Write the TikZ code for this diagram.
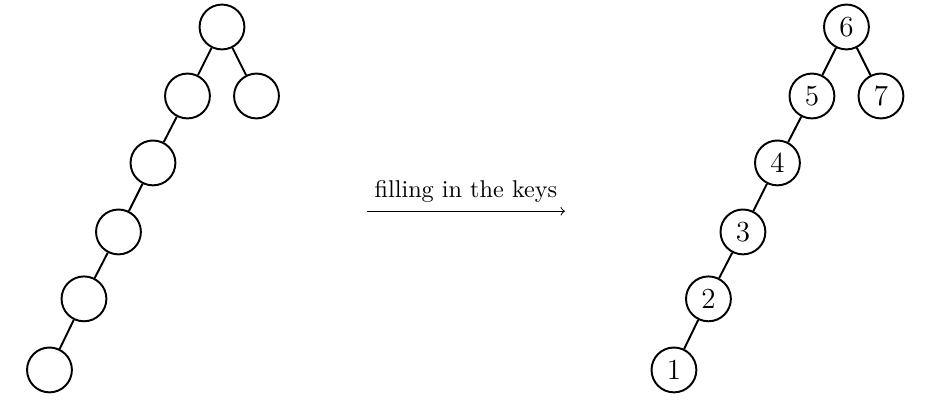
\documentclass[tikz,border=0pt]{standalone}
\usepackage{amsmath}
\usepackage{tikz}
\tikzset{vertex/.style={circle,draw,thick,minimum size=0.65cm,inner sep=0pt,font=\large},
 link/.style={draw,thick},
 }

\begin{document}
\begin{tikzpicture}
        \useasboundingbox (-3.217, 0.391) rectangle (10.232, -5.623);
        % shape only
        \node[vertex] (a6) at (0, 0) {};
        \node[vertex] (a5) at (-.5, -1) {};
        \node[vertex] (a7) at (.5, -1) {};
        \node[vertex] (a4) at (-1, -1.97) {};
        \node[vertex] (a3) at (-1.5, -2.97) {};
        \node[vertex] (a2) at (-2, -3.94) {};
        \node[vertex] (a1) at (-2.5, -4.97) {};
        \draw[link] (a6) -- (a5);
        \draw[link] (a6) -- (a7);
        \draw[link] (a5) -- (a4);
        \draw[link] (a4) -- (a3);
        \draw[link] (a3) -- (a2);
        \draw[link] (a2) -- (a1);
        % the arrow
        \coordinate (from) at (2.1, -2.67);
        \coordinate (to) at (4.97, -2.67);
        \draw[->] (from) -- node[above] {filling in the keys} (to);
        % with keys
        \node[vertex] (b6) at (9.05, 0) {$6$};
        \node[vertex] (b5) at (8.55, -1) {$5$};
        \node[vertex] (b7) at (9.55, -1) {$7$};
        \node[vertex] (b4) at (8.05, -1.97) {$4$};
        \node[vertex] (b3) at (7.55, -2.97) {$3$};
        \node[vertex] (b2) at (7.05, -3.94) {$2$};
        \node[vertex] (b1) at (6.55, -4.97) {$1$};
        \draw[link] (b6) -- (b5);
        \draw[link] (b6) -- (b7);
        \draw[link] (b5) -- (b4);
        \draw[link] (b4) -- (b3);
        \draw[link] (b3) -- (b2);
        \draw[link] (b2) -- (b1);
    \end{tikzpicture}
\end{document}
